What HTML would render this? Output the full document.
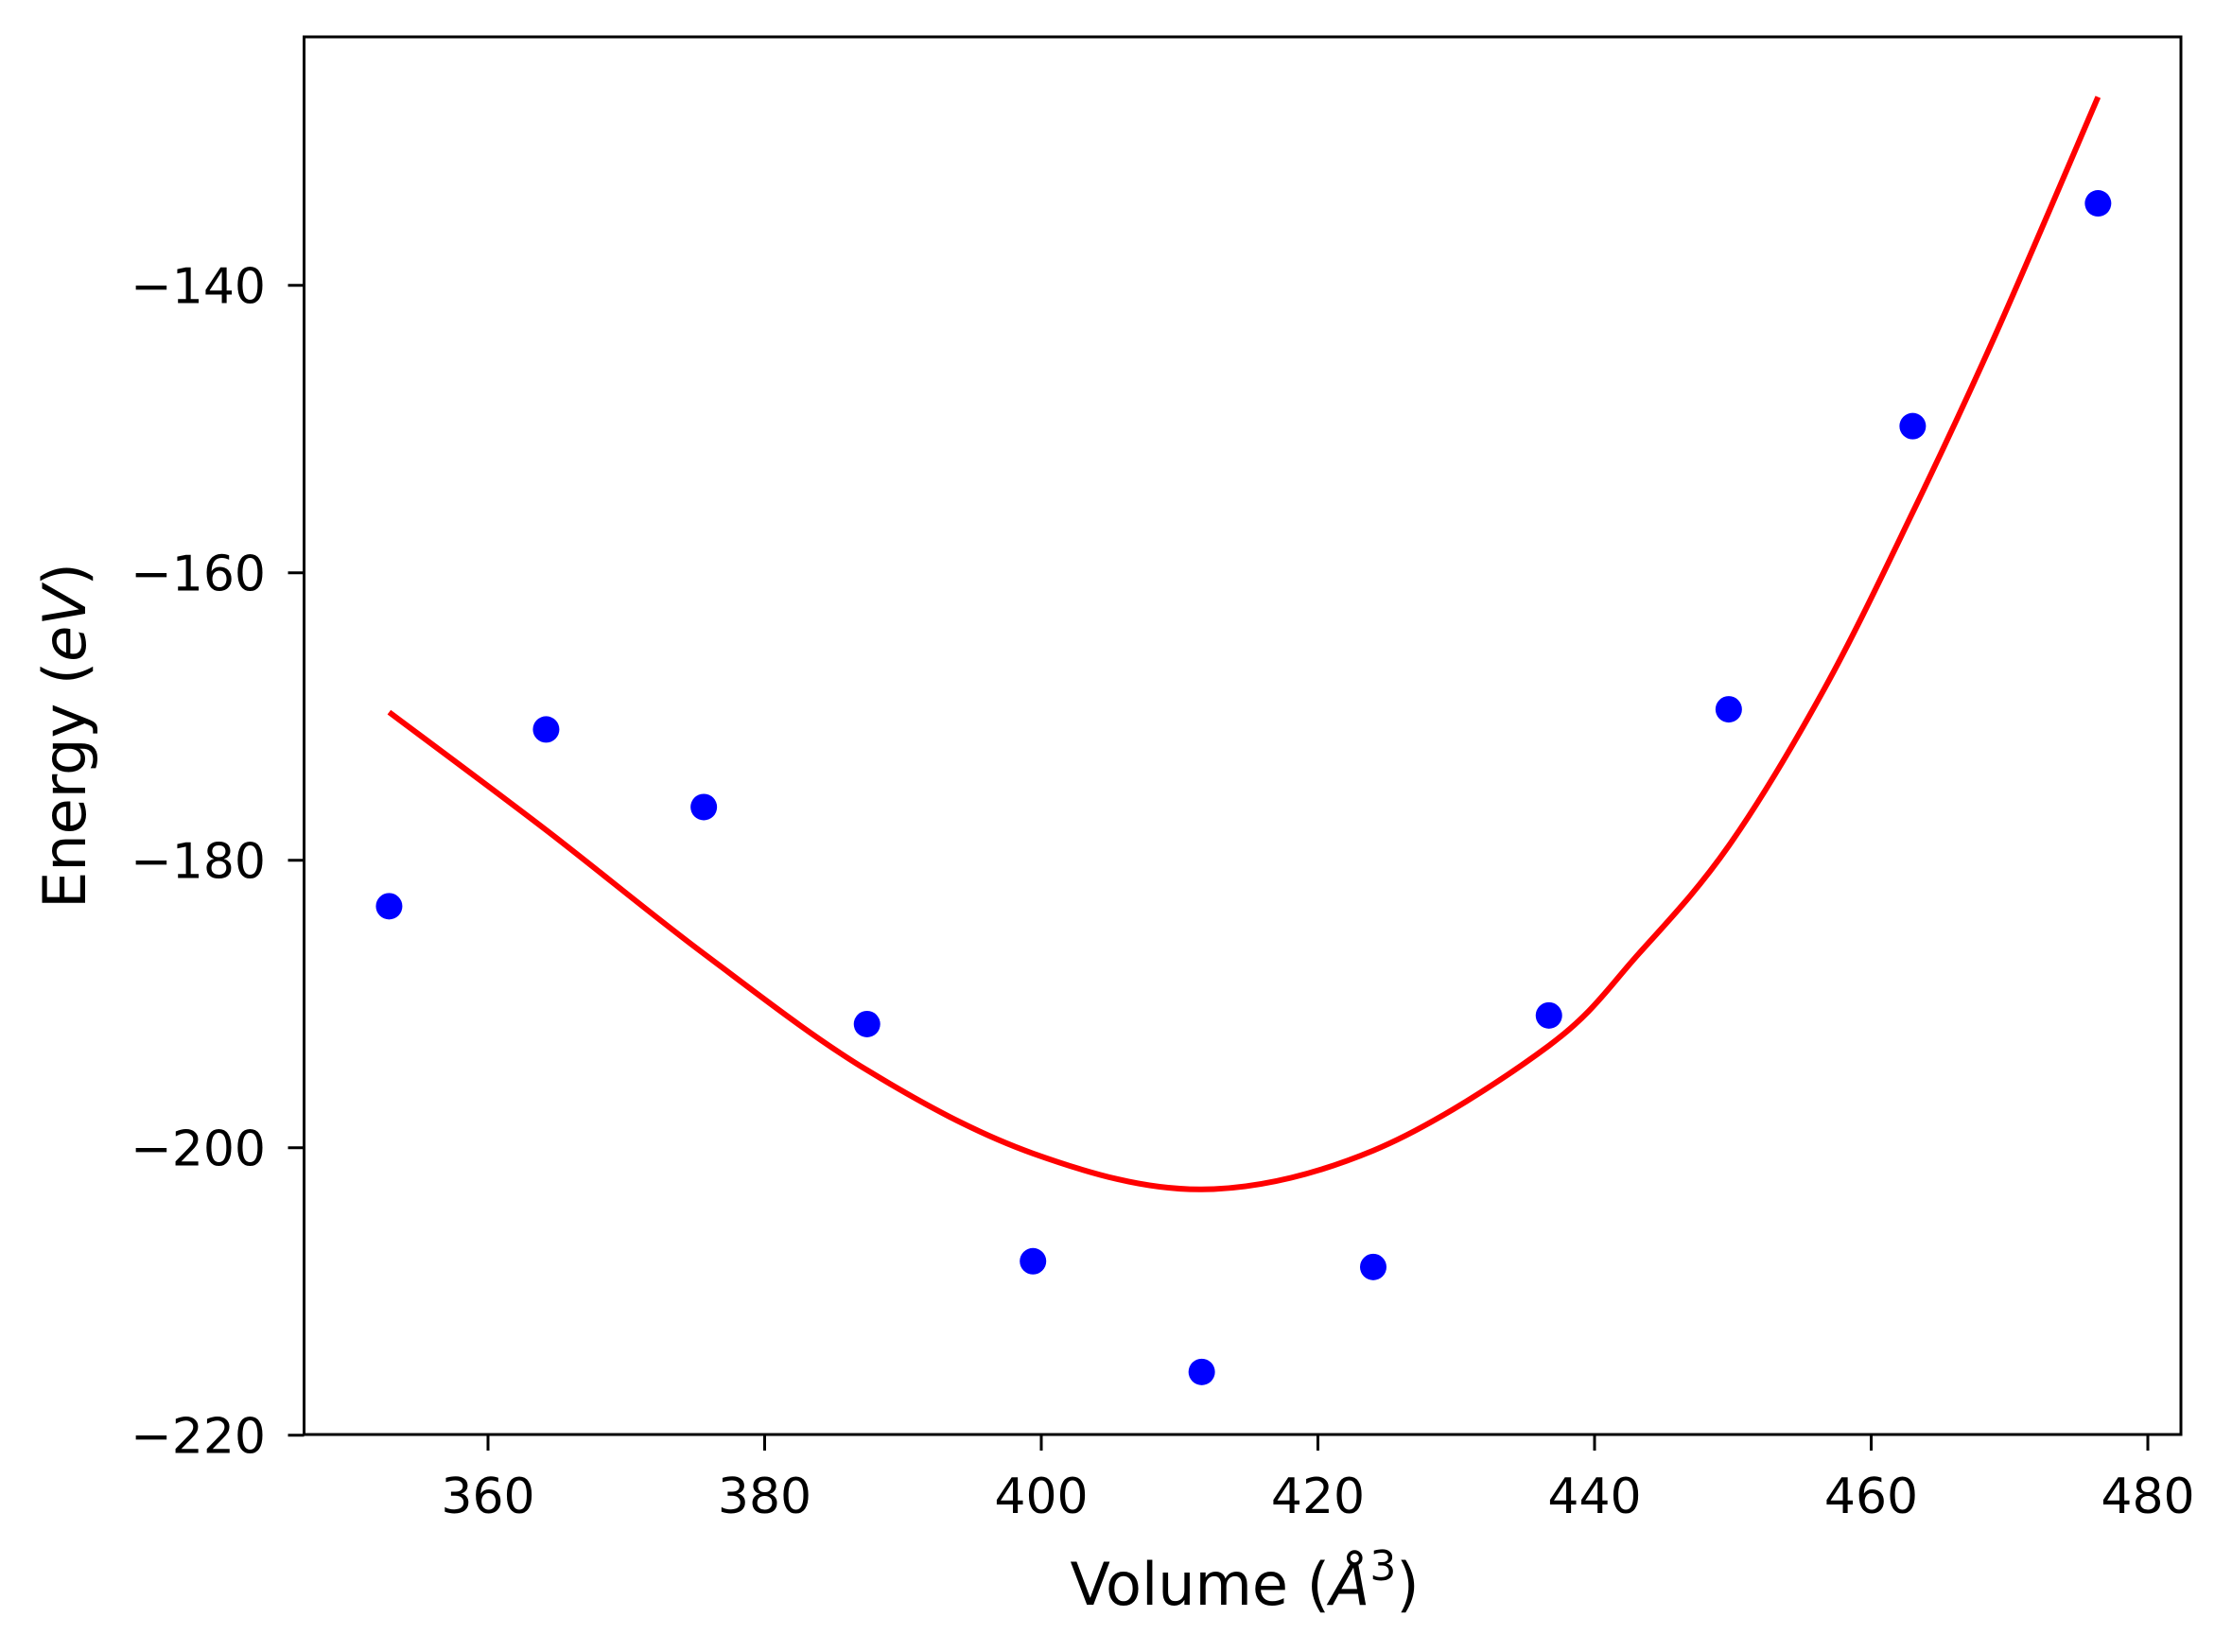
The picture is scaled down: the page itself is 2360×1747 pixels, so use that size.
<!DOCTYPE html>
<html><head><meta charset="utf-8"><style>
html,body{margin:0;padding:0;background:#fff;}
svg{display:block;font-family:"DejaVu Sans","Liberation Sans",sans-serif;}
</style></head><body>
<svg id="chart" width="2360" height="1747" viewBox="0 0 2360 1747" xmlns="http://www.w3.org/2000/svg">
<rect width="2360" height="1747" fill="#fff"/>
<g id="plot"></g>
<g id="xticks"></g>
<g id="yticks"></g>
<rect x="321.5" y="39" width="1984.5" height="1478" fill="none" stroke="#000" stroke-width="3"/>
<text x="1316" y="1697" font-size="62" text-anchor="middle">Volume (<tspan font-style="italic">Å</tspan><tspan font-size="44" dy="-26">3</tspan><tspan dy="26">)</tspan></text>
<text transform="translate(90,778) rotate(-90)" font-size="62" text-anchor="middle">Energy (<tspan font-style="italic">eV</tspan>)</text>
</svg>
<script>
const volumes = [352.85, 364.2, 375.6, 387.4, 399.4, 411.6, 424.0, 436.7, 449.7, 463.0, 476.4];
const energies = [-183.2, -170.9, -176.3, -191.4, -207.9, -215.6, -208.3, -190.8, -169.5, -149.8, -134.3];
const fitVolumes = [352.85, 364.2, 375.6, 387.4, 399.4, 411.6, 424.0, 436.7, 443.2, 449.7, 456.6, 463.0, 469.0, 476.4];
const fitEnergies = [-169.7, -177.9, -186.5, -194.6, -200.4, -202.9, -200.2, -192.9, -186.5, -179.0, -168.1, -155.8, -143.4, -126.9];
const xTickValues = [360, 380, 400, 420, 440, 460, 480];
const yTickValues = [-140, -160, -180, -200, -220];

const NS = "http://www.w3.org/2000/svg";
function xScale(v){ return 516 + (v - 360) * 14.625; }
function yScale(v){ return 301.7 + (-140 - v) * 15.2; }
function mk(tag, attrs, parent){
  const e = document.createElementNS(NS, tag);
  for (const k in attrs) e.setAttribute(k, attrs[k]);
  parent.appendChild(e);
  return e;
}
const plot = document.getElementById('plot');
const xt = document.getElementById('xticks');
const yt = document.getElementById('yticks');

// fit curve: Catmull-Rom smoothing through read points
const pts = fitVolumes.map((v, i) => [xScale(v), yScale(fitEnergies[i])]);
let d = 'M' + pts[0][0] + ',' + pts[0][1];
for (let i = 0; i < pts.length - 1; i++) {
  const p0 = pts[i - 1] || pts[i], p1 = pts[i], p2 = pts[i + 1], p3 = pts[i + 2] || p2;
  const c1 = [p1[0] + (p2[0] - p0[0]) / 6, p1[1] + (p2[1] - p0[1]) / 6];
  const c2 = [p2[0] - (p3[0] - p1[0]) / 6, p2[1] - (p3[1] - p1[1]) / 6];
  d += ' C' + c1.join(',') + ' ' + c2.join(',') + ' ' + p2.join(',');
}
const line = mk('path', {d: d, fill: 'none', stroke: '#ff0000', 'stroke-width': 6}, plot);



volumes.forEach((v, i) => {
  const c = mk('circle', {cx: xScale(v), cy: yScale(energies[i]), r: 14, fill: '#0000ff'}, plot);
  
  
});

xTickValues.forEach(v => {
  const x = xScale(v);
  const t = mk('line', {x1: x, x2: x, y1: 1517, y2: 1534, stroke: '#000', 'stroke-width': 3}, xt);
  
  
  const l = mk('text', {x: x, y: 1600, 'font-size': 52, 'text-anchor': 'middle'}, xt);
  l.textContent = String(v);
  
  
});
yTickValues.forEach(v => {
  const y = yScale(v);
  const t = mk('line', {x1: 304.5, x2: 321.5, y1: y, y2: y, stroke: '#000', 'stroke-width': 3}, yt);
  
  
  const l = mk('text', {x: 281, y: y + 19, 'font-size': 52, 'text-anchor': 'end'}, yt);
  l.textContent = '\u2212' + Math.abs(v);
  
  
});
</script>
</body></html>
